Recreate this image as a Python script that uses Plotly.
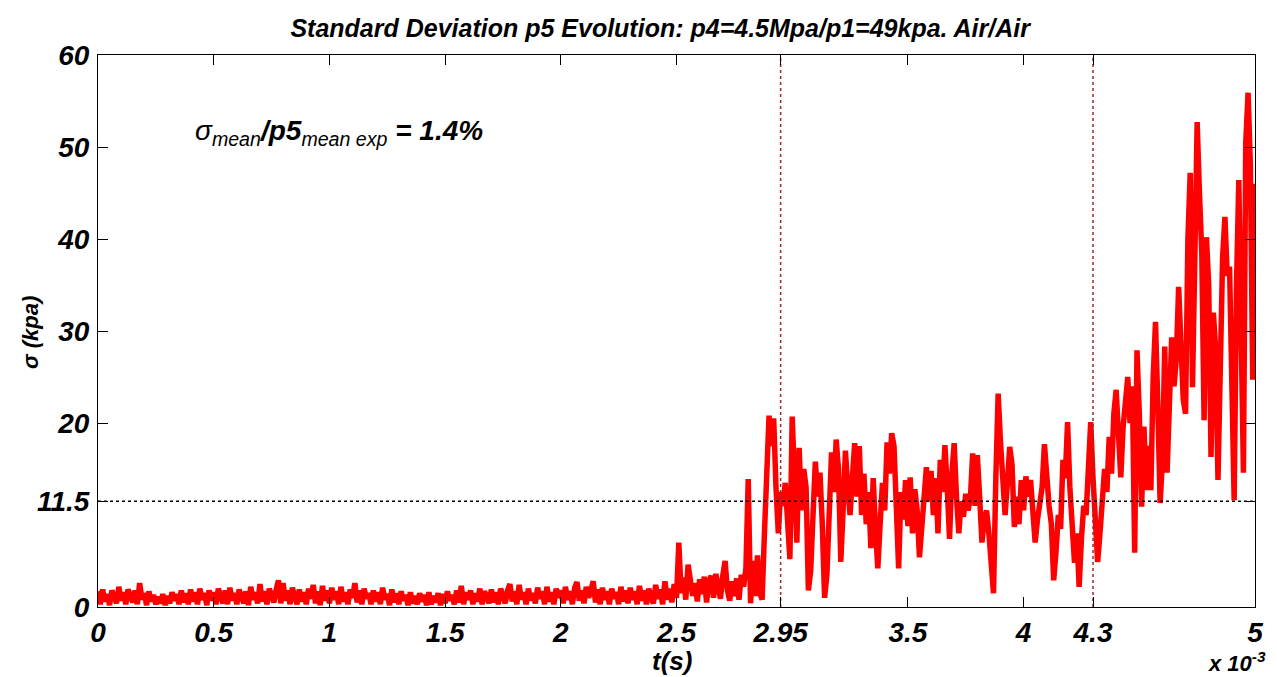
import numpy as np
import plotly.graph_objects as go

# time sampling (ms), one value every 0.01 ms from 0 to 5 ms
t_start_ms = 0.0
t_step_ms = 0.01

sigma_low = [
    1.7, 0.3, 1.9, 0.6, 1.4, 0.2, 1.8, 1.1, 0.4, 2.2,
    0.7, 1.6, 0.3, 1.9, 1.2, 0.5, 1.8, 0.3, 2.6, 0.8,
    1.5, 0.2, 1.7, 0.6, 1.3, 0.3, 1.1, 0.4, 1.4, 0.2,
    1.2, 0.4, 1.6, 0.7, 1.4, 0.3, 1.8, 0.5, 1.5, 0.3,
    1.9, 0.6, 1.6, 0.3, 2.0, 0.8, 1.5, 0.2, 1.8, 0.7,
    1.6, 0.3, 2.0, 1.0, 0.4, 1.8, 0.3, 2.1, 0.7, 1.5,
    0.3, 1.9, 0.9, 0.4, 1.7, 0.2, 2.2, 0.8, 1.6, 0.4,
    2.5, 0.6, 1.7, 0.3, 2.0, 1.0, 0.5, 1.9, 2.9, 0.4,
    2.6, 0.7, 1.8, 0.3, 2.1, 1.1, 0.3, 1.9, 0.6, 1.6,
    0.3, 2.0, 0.9, 2.4, 0.4, 1.7, 0.2, 2.3, 0.7, 1.8,
    0.4, 2.1, 0.8, 1.7, 0.3, 2.2, 0.6, 1.6, 0.3, 1.9,
    1.0, 2.6, 0.5, 1.8, 0.3, 2.0, 0.9, 1.5, 0.3, 1.8,
    0.6, 1.6, 0.3, 2.1, 0.8, 1.4, 0.2, 1.9, 0.5, 1.5,
    0.3, 1.7, 0.7, 1.3, 0.2, 1.6, 0.4, 1.2, 0.3, 1.5,
    0.6, 1.3, 0.2, 1.6, 0.3, 1.2, 0.5, 1.5, 0.2, 1.4,
    0.4, 1.7, 0.7, 1.3, 0.3, 1.8, 0.5, 2.3, 0.3, 1.6,
    0.8, 1.8, 0.3, 1.5, 0.6, 2.0, 0.3, 1.7, 0.9, 0.4,
    1.9, 0.5, 1.6, 0.3, 2.0, 1.0, 0.4, 1.8, 2.5, 0.6,
    1.7, 0.3, 2.4, 0.8, 1.6, 0.3, 2.0, 0.7, 1.5, 0.4,
    2.1, 0.9, 1.7, 0.3, 2.2, 0.6, 1.6, 0.3, 2.0, 1.0,
    1.8, 0.4, 2.2, 0.8, 1.7, 0.3, 2.1, 2.7, 0.7, 1.8,
    0.4, 2.2, 1.0, 1.8, 2.8, 0.5, 1.9, 0.3, 2.1, 0.8,
    1.7, 0.3, 2.0, 0.9, 1.6, 0.3, 2.2, 0.6, 1.8, 0.4,
    2.1, 0.8, 1.7, 0.3, 2.3, 0.7, 1.8, 0.3, 2.0, 1.0,
    0.4, 2.4, 0.9, 1.9, 0.3, 2.8, 0.8, 2.0, 0.5, 2.5,
]

sigma_high = [
    1.0, 7.0, 1.5, 3.2, 0.8, 4.6, 3.0, 1.2, 2.6, 0.6,      # 2.50
    3.0, 1.4, 3.3, 0.5, 2.8, 3.4, 1.0, 3.6, 2.2, 0.9,      # 2.60
    3.4, 5.0, 1.8, 0.7, 2.8, 1.2, 3.1, 0.8, 3.5, 2.2,      # 2.70
    4.2, 13.9, 0.4, 5.0, 1.2, 5.6, 1.5, 0.8, 8.0, 14.0,    # 2.80
    20.8, 17.5, 20.5, 13.0, 8.0, 12.5, 11.0, 13.5, 9.5, 5.2,  # 2.90
    20.7, 12.0, 7.0, 17.3, 10.5, 15.0, 13.0, 1.8, 4.0, 10.0,  # 3.00
    15.8, 12.0, 14.6, 9.0, 1.0, 3.5, 10.0, 16.8, 12.5, 18.2,  # 3.10
    15.0, 4.9, 10.5, 17.0, 13.0, 10.0, 14.0, 17.8, 12.0, 17.5,  # 3.20
    10.0, 14.5, 9.0, 12.5, 6.4, 14.0, 8.5, 4.2, 9.0, 13.5,   # 3.30
    10.5, 17.9, 14.5, 18.9, 17.5, 10.0, 4.2, 12.5, 9.5, 13.8,  # 3.40
    8.8, 14.1, 8.0, 12.8, 10.5, 5.4, 9.0, 13.0, 15.2, 11.5,   # 3.50
    14.8, 10.0, 14.0, 8.0, 16.0, 12.5, 17.6, 13.0, 7.4, 14.5,  # 3.60
    17.8, 12.0, 8.0, 11.5, 9.8, 12.3, 10.5, 11.8, 16.7, 11.0,  # 3.70
    16.5, 12.0, 7.0, 9.5, 10.5, 8.0, 5.0, 1.5, 14.0, 23.2,    # 3.80
    18.0, 13.0, 10.0, 13.5, 17.4, 15.5, 8.7, 12.0, 9.0, 13.8,  # 3.90
    10.5, 14.2, 12.0, 13.8, 10.0, 7.0, 9.5, 11.5, 13.0, 17.7,  # 4.00
    13.5, 11.0, 9.0, 2.9, 6.0, 10.0, 8.5, 16.0, 14.0, 20.1,   # 4.10
    13.0, 9.5, 4.8, 8.0, 2.2, 7.5, 11.0, 10.0, 15.0, 20.1,    # 4.20
    14.0, 10.5, 4.9, 8.0, 12.0, 15.0, 12.5, 18.5, 14.5, 21.0,  # 4.30
    23.6, 19.0, 14.1, 19.5, 22.0, 25.0, 20.0, 24.0, 5.9, 27.9,  # 4.40
    21.0, 10.9, 19.6, 12.7, 17.5, 12.7, 25.0, 31.0, 22.0, 11.3,  # 4.50
    16.0, 28.3, 14.6, 25.0, 29.3, 24.0, 27.0, 34.8, 26.5, 22.5,  # 4.60
    21.0, 40.0, 47.2, 23.9, 38.0, 52.7, 45.0, 38.5, 20.3, 40.2,  # 4.70
    35.0, 16.3, 32.0, 28.0, 13.8, 30.0, 38.0, 42.4, 36.0, 37.0,  # 4.80
    24.0, 11.6, 35.0, 46.4, 30.0, 14.6, 50.4, 55.9, 48.0, 24.7,  # 4.90
    46.0,                                                        # 5.00
]

sigma_kpa = sigma_low + sigma_high
t_s = (t_start_ms + t_step_ms * np.arange(len(sigma_kpa))) * 1e-3

x_tick_vals_ms = [0, 0.5, 1, 1.5, 2, 2.5, 2.95, 3.5, 4, 4.3, 5]
x_tick_text = ["0", "0.5", "1", "1.5", "2", "2.5", "2.95", "3.5", "4", "4.3", "5"]
y_tick_vals = [0, 11.5, 20, 30, 40, 50, 60]
y_tick_text = ["0", "11.5", "20", "30", "40", "50", "60"]
marker_times_ms = [2.95, 4.3]
mean_sigma = 11.5

FONT = "Liberation Sans, Arial, Helvetica, sans-serif"

fig = go.Figure()
fig.add_trace(go.Scatter(
    x=t_s, y=sigma_kpa, mode="lines",
    line=dict(color="#ff0000", width=5.5),
    showlegend=False, hoverinfo="skip",
))

# horizontal mean line
fig.add_trace(go.Scatter(
    x=[0, 5e-3], y=[mean_sigma, mean_sigma], mode="lines",
    line=dict(color="black", width=1.5, dash="dot"),
    showlegend=False, hoverinfo="skip",
))
# vertical markers
for tm in marker_times_ms:
    fig.add_trace(go.Scatter(
        x=[tm * 1e-3, tm * 1e-3], y=[0, 60], mode="lines",
        line=dict(color="#a0282a", width=1.5, dash="dot"),
        showlegend=False, hoverinfo="skip",
    ))

tickfont = dict(family=FONT, size=28, color="black", weight="bold", style="italic")

fig.update_layout(
    width=1277, height=677,
    margin=dict(l=98, r=22, t=55, b=70),
    paper_bgcolor="white", plot_bgcolor="white",
    title=dict(
        text="Standard Deviation p5 Evolution: p4=4.5Mpa/p1=49kpa. Air/Air",
        font=dict(family=FONT, size=25, color="black", weight="bold", style="italic"),
        x=0.517, xanchor="center", y=0.958, yanchor="middle",
    ),
    xaxis=dict(
        range=[0, 5e-3],
        tickvals=[v * 1e-3 for v in x_tick_vals_ms],
        ticktext=x_tick_text,
        tickfont=tickfont,
        ticks="inside", ticklen=10, tickcolor="black", tickwidth=1,
        showline=True, linecolor="black", linewidth=1, mirror="ticks",
        showgrid=False, zeroline=False,
        ticklabelstandoff=0,
    ),
    yaxis=dict(
        range=[0, 60],
        tickvals=y_tick_vals,
        ticktext=y_tick_text,
        tickfont=tickfont,
        ticks="inside", ticklen=10, tickcolor="black", tickwidth=1,
        showline=True, linecolor="black", linewidth=1, mirror="ticks",
        showgrid=False, zeroline=False,
        ticklabelstandoff=2,
    ),
    annotations=[
        dict(text="<b><i>t(s)</i></b>", xref="paper", yref="paper",
             x=(672 - 98) / 1157, y=(607 - 661) / 552, xanchor="center", yanchor="middle",
             showarrow=False, font=dict(family=FONT, size=26, color="black")),
        dict(text="<b><i>x 10<sup>-3</sup></i></b>", xref="paper", yref="paper",
             x=(1268 - 98) / 1157, y=(607 - 662) / 552, xanchor="right", yanchor="middle",
             showarrow=False, font=dict(family=FONT, size=22, color="black")),
        dict(text="<b><i>σ (kpa)</i></b>", xref="paper", yref="paper",
             x=(30 - 98) / 1157, y=(607 - 333) / 552, xanchor="center", yanchor="middle",
             textangle=-90,
             showarrow=False, font=dict(family=FONT, size=22, color="black")),
        dict(text="<i>σ<sub>mean</sub></i><b><i>/p5</i></b><i><sub>mean exp</sub></i><b><i> = 1.4%</i></b>",
             xref="paper", yref="paper",
             x=(193 - 98) / 1157, y=(607 - 133) / 552, xanchor="left", yanchor="middle",
             showarrow=False, font=dict(family=FONT, size=28, color="black")),
    ],
)

fig.write_html("out.html")
